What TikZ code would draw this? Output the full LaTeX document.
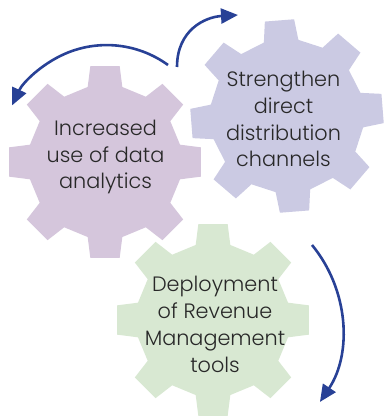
\documentclass[tikz,border=0pt]{standalone}
\usepackage{fontspec}
\setmainfont{Poppins}[UprightFont={* Light}]
\usetikzlibrary{arrows.meta,calc}
\definecolor{gearpurple}{RGB}{213,198,220}
\definecolor{gearblue}{RGB}{203,202,227}
\definecolor{geargreen}{RGB}{216,232,210}
\definecolor{arrowblue}{RGB}{40,65,150}
\definecolor{textgray}{RGB}{40,40,40}
\newcommand\mygear[4]{% x, y, angle offset, colour
  \fill[#4] ($(#1,#2)+(#3-13:77)$)
    \foreach \a in {0,45,...,315} {
      -- ($(#1,#2)+(\a+#3-13:77)$) -- ($(#1,#2)+(\a+#3-8.7:97)$)
      -- ($(#1,#2)+(\a+#3+8.7:97)$) -- ($(#1,#2)+(\a+#3+13:77)$)
    } -- cycle;}
\tikzset{
  gtext/.style={align=center, anchor=base, inner sep=0pt, text=textgray,
    font=\fontsize{20.8}{26.7}\selectfont},
  cyclearrow/.style={draw=arrowblue, line width=2.6pt,
    -{Triangle[length=17pt,width=15pt]}}
}
\begin{document}
\begin{tikzpicture}[x=1pt,y=-1pt]
\useasboundingbox (0,0) rectangle (385,419);
% gears
\mygear{105}{162}{0}{gearpurple}
\mygear{287}{116}{-4.5}{gearblue}
\mygear{213}{320}{0}{geargreen}
% texts (anchored at the baseline of the last line)
\node[gtext] (data) at (105.5,189) {Increased\\use of data\\analytics};
\node[gtext] (direct) at (283.5,167) {Strengthen\\direct\\distribution\\channels};
\node[gtext] (rm) at (215,372) {Deployment\\of Revenue\\Management\\tools};
% arrow end points
\coordinate (a1s) at (168,65);
\coordinate (b1s) at (177,67);
\coordinate (b1e) at (238,15);
\coordinate (c1s) at (312,245);
% arrows
\draw[cyclearrow] (a1s) arc[start angle=-54, end angle=-155, radius=104.3];
\draw[cyclearrow] (b1s) .. controls (177,30) and (205,17) .. (b1e);
\draw[cyclearrow] (c1s) arc[start angle=-39.5, end angle=33.7, radius=131.8];
\end{tikzpicture}
\end{document}
